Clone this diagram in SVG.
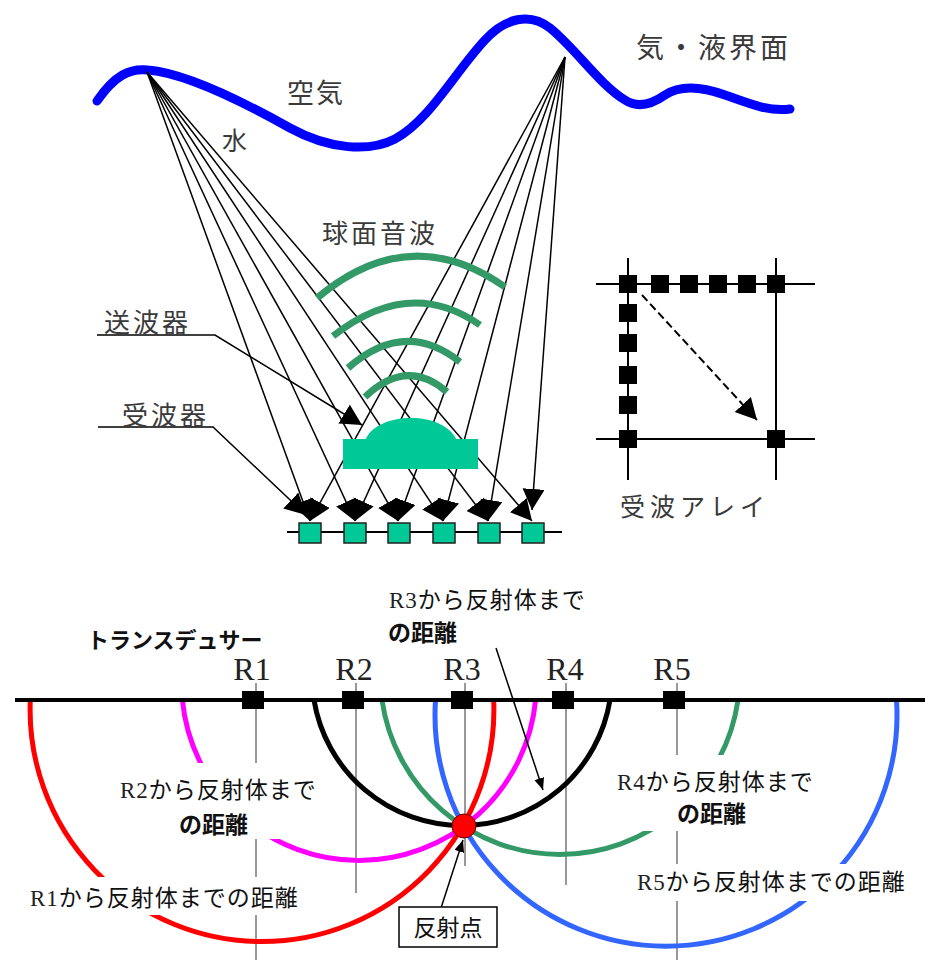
<svg xmlns="http://www.w3.org/2000/svg" width="932" height="966" viewBox="0 0 932 966">
  <style>
    .jp { font-family: "Noto Sans CJK JP", "Noto Sans", sans-serif; fill: #3a3a3a; }
    .lbl { font-family: "Noto Sans CJK JP", "Noto Sans", sans-serif; fill: #111; font-weight: normal; }
    .b { font-weight: bold; }
    .ser { font-family: "Liberation Serif", "Noto Sans CJK JP", serif; font-weight: normal; fill: #222; }
    .ray { stroke: #000; stroke-width: 1.5; fill: none; marker-end: url(#ah); }
    .wave { stroke: #339966; stroke-width: 7; fill: none; }
    .thin { stroke: #333; stroke-width: 1; }
    .arc { fill: none; stroke-width: 5; }
    .blk { fill: #000; }
    .rx { fill: #00C896; stroke: #222; stroke-width: 1.5; }
  </style>
  <defs>
    <marker id="ah" markerWidth="24" markerHeight="24" refX="21" refY="11" orient="auto" markerUnits="userSpaceOnUse">
      <path d="M0,0 L21,11 L0,22 Z" fill="#000"/>
    </marker>
    <marker id="ahs" markerWidth="14" markerHeight="12" refX="12" refY="5" orient="auto" markerUnits="userSpaceOnUse">
      <path d="M0,0 L12,5 L0,10 Z" fill="#000"/>
    </marker>
  </defs>

  <rect width="932" height="966" fill="#fff"/>

  <!-- gas-liquid interface -->
  <g id="surface">
    <path d="M97,101 C115,75 130,68 148,70 C185,73 240,100 290,128 C330,150 370,152 395,139 C430,120 455,72 485,40 C505,18 530,12 550,28 C575,48 600,85 625,100 C640,110 655,102 665,95 C680,85 700,86 725,95 C750,104 770,112 790,109" fill="none" stroke="#0000FF" stroke-width="9" stroke-linecap="round"/>
    <text class="jp" x="287" y="103" font-size="27" letter-spacing="2">空気</text>
    <text class="jp" x="222" y="150" font-size="25">水</text>
    <text class="jp" x="636" y="58" font-size="28" letter-spacing="3">気・液界面</text>
  </g>

  <!-- reflected rays to receivers -->
  <g id="connectors">
    <line class="ray" x1="147" y1="72" x2="310" y2="521"/>
    <line class="ray" x1="147" y1="72" x2="355" y2="521"/>
    <line class="ray" x1="147" y1="72" x2="398" y2="521"/>
    <line class="ray" x1="147" y1="72" x2="443" y2="521"/>
    <line class="ray" x1="147" y1="72" x2="488" y2="521"/>
    <line class="ray" x1="147" y1="72" x2="532" y2="521"/>
    <line class="ray" x1="565" y1="57" x2="310" y2="521"/>
    <line class="ray" x1="565" y1="57" x2="355" y2="521"/>
    <line class="ray" x1="565" y1="57" x2="398" y2="521"/>
    <line class="ray" x1="565" y1="57" x2="443" y2="521"/>
    <line class="ray" x1="565" y1="57" x2="488" y2="521"/>
    <line class="ray" x1="565" y1="57" x2="532" y2="510"/>
    <polyline class="ray" points="97,335 215,335 362,425"/>
    <polyline class="ray" points="98,427 213,427 306,515"/>
  </g>

  <!-- spherical waves -->
  <g id="waves">
    <path class="wave" d="M317,298 Q410,220 505,287"/>
    <path class="wave" d="M333,336 Q410,276 480,325"/>
    <path class="wave" d="M348,368 Q405,318 460,362"/>
    <path class="wave" d="M365,397 Q407,357 447,392"/>
    <text class="jp" x="322" y="243" font-size="26" letter-spacing="3">球面音波</text>
  </g>

  <!-- transmitter -->
  <g id="transmitter">
    <path d="M365,441 C370,426 390,418 411,418 C432,418 451,426 457,441 Z" fill="#00C896"/>
    <rect x="343" y="439" width="135" height="30" fill="#00C896"/>
    <text class="jp" x="104" y="332" font-size="26" letter-spacing="3">送波器</text>
  </g>

  <!-- receiver row -->
  <g id="receivers">
    <line x1="287" y1="532" x2="562" y2="532" stroke="#000" stroke-width="2"/>
    <rect class="rx" x="299" y="523" width="22" height="20"/>
    <rect class="rx" x="344" y="523" width="22" height="20"/>
    <rect class="rx" x="388" y="523" width="22" height="20"/>
    <rect class="rx" x="433" y="523" width="22" height="20"/>
    <rect class="rx" x="478" y="523" width="22" height="20"/>
    <rect class="rx" x="522" y="523" width="22" height="20"/>
    <text class="jp" x="122" y="425" font-size="26" letter-spacing="3">受波器</text>
  </g>

  <!-- receiver array plan -->
  <g id="array">
    <g stroke="#000" stroke-width="2">
      <line x1="596" y1="284" x2="815" y2="284"/>
      <line x1="596" y1="439" x2="815" y2="439"/>
      <line x1="628" y1="258" x2="628" y2="480"/>
      <line x1="776" y1="258" x2="776" y2="480"/>
    </g>
    <g class="blk">
      <rect x="619" y="275" width="18" height="18"/>
      <rect x="651" y="275" width="18" height="18"/>
      <rect x="680" y="275" width="18" height="18"/>
      <rect x="709" y="275" width="18" height="18"/>
      <rect x="738" y="275" width="18" height="18"/>
      <rect x="767" y="275" width="18" height="18"/>
      <rect x="619" y="304" width="18" height="18"/>
      <rect x="619" y="334" width="18" height="18"/>
      <rect x="619" y="366" width="18" height="18"/>
      <rect x="619" y="396" width="18" height="18"/>
      <rect x="619" y="430" width="18" height="18"/>
      <rect x="767" y="430" width="18" height="18"/>
    </g>
    <line x1="642" y1="295" x2="757" y2="420" stroke="#000" stroke-width="2" stroke-dasharray="8 4" marker-end="url(#ah)"/>
    <text class="jp" x="620" y="516" font-size="25" letter-spacing="5">受波アレイ</text>
  </g>

  <!-- transducer line -->
  <g id="transducer">
    <text class="lbl b" x="87" y="648" font-size="22">トランスデュサー</text>
    <g class="thin">
      <line x1="256" y1="683" x2="256" y2="960"/>
      <line x1="356" y1="683" x2="356" y2="893"/>
      <line x1="465" y1="683" x2="465" y2="866"/>
      <line x1="566" y1="683" x2="566" y2="885"/>
      <line x1="677" y1="683" x2="677" y2="960"/>
    </g>
  </g>

  <!-- distance arcs -->
  <g id="arcs">
    <path class="arc" stroke="#FF0000" d="M30.3,700 A231.9,231.9 0 1 0 493.7,700"/>
    <path class="arc" stroke="#FF00FF" d="M182.4,700 A177.4,177.4 0 0 0 535.6,700"/>
    <path class="arc" stroke="#000000" d="M314,700 A150,150 0 0 0 610,700"/>
    <path class="arc" stroke="#339966" d="M382,700 A179.8,179.8 0 0 0 738,700"/>
    <path class="arc" stroke="#3366FF" d="M435.5,700 A231,231 0 1 0 896.5,700"/>
  </g>

  <g id="baseline">
    <line x1="15" y1="700" x2="925" y2="700" stroke="#000" stroke-width="4"/>
    <g class="blk">
      <rect x="242" y="691" width="22" height="18"/>
      <rect x="342" y="691" width="22" height="18"/>
      <rect x="451" y="691" width="22" height="18"/>
      <rect x="552" y="691" width="22" height="18"/>
      <rect x="663" y="691" width="22" height="18"/>
    </g>
    <g class="ser" font-size="32" text-anchor="middle">
      <text x="252" y="680">R1</text>
      <text x="354" y="680">R2</text>
      <text x="462" y="680">R3</text>
      <text x="565" y="680">R4</text>
      <text x="672" y="680">R5</text>
    </g>
  </g>

  <!-- labels -->
  <g id="label-r1">
    <rect x="25" y="877" width="282" height="38" fill="#fff"/>
    <text class="lbl" x="30" y="906" font-size="23" letter-spacing="1"><tspan class="ser">R1</tspan>から反射体までの距離</text>
  </g>
  <g id="label-r2">
    <rect x="115" y="763" width="203" height="76" fill="#fff"/>
    <text class="lbl" x="120" y="798" font-size="23" letter-spacing="1"><tspan class="ser">R2</tspan>から反射体まで</text>
    <text class="lbl b" x="179" y="833" font-size="23">の距離</text>
  </g>
  <g id="label-r3">
    <text class="lbl" x="389" y="608" font-size="23" letter-spacing="1"><tspan class="ser">R3</tspan>から反射体まで</text>
    <text class="lbl b" x="388" y="641" font-size="23">の距離</text>
  </g>
  <g id="label-r4">
    <rect x="612" y="755" width="203" height="76" fill="#fff"/>
    <text class="lbl" x="617" y="790" font-size="23" letter-spacing="1"><tspan class="ser">R4</tspan>から反射体まで</text>
    <text class="lbl b" x="677" y="822" font-size="23">の距離</text>
  </g>
  <g id="label-r5">
    <rect x="632" y="864" width="278" height="37" fill="#fff"/>
    <text class="lbl" x="637" y="890" font-size="23" letter-spacing="1"><tspan class="ser">R5</tspan>から反射体までの距離</text>
  </g>

  <g id="pointers">
    <line x1="496" y1="648" x2="543" y2="790" stroke="#000" stroke-width="1.5" marker-end="url(#ahs)"/>
    <line x1="441" y1="908" x2="463" y2="840" stroke="#000" stroke-width="1.5" marker-end="url(#ahs)"/>
  </g>

  <g id="reflector">
    <circle cx="464" cy="826" r="12" fill="#FF0000" stroke="#600" stroke-width="1"/>
  </g>

  <g id="reflector-label">
    <rect x="399" y="907" width="98" height="40" fill="#fff" stroke="#000" stroke-width="1.5"/>
    <text class="lbl" x="448" y="936" font-size="23" text-anchor="middle">反射点</text>
  </g>
</svg>
